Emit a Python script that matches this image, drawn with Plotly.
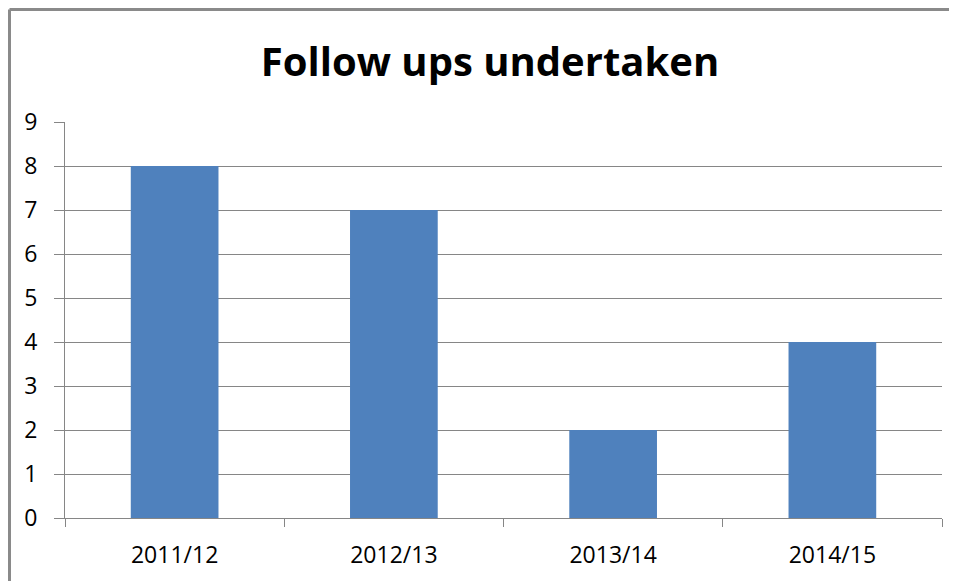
import plotly.graph_objects as go

categories = ["2011/12", "2012/13", "2013/14", "2014/15"]
values = [8, 7, 2, 4]
y_ticks = list(range(0, 10))

# page has an 8px body margin, so figure coordinates are offset by 8px
OFF = 8
W, H = 957 - OFF, 581 - OFF
L = 65 - OFF
T = 122 - OFF
R = W - (942 - OFF)
B = H - (518 - OFF)
pw, ph = W - L - R, H - T - B

fig = go.Figure(go.Bar(x=categories, y=values, marker_color="#4F81BD", marker_line_width=0))

grid = "#868686"
fig.update_layout(
    width=W, height=H,
    margin=dict(l=L, r=R, t=T, b=B, autoexpand=False),
    paper_bgcolor="white", plot_bgcolor="white",
    bargap=0.6,
    showlegend=False,
    title=dict(text="<b>Follow ups undertaken</b>", x=(490 - OFF - L) / pw, xref="paper", xanchor="center",
               y=1 - (62 - OFF) / H, yanchor="middle",
               font=dict(family="Open Sans", size=40, color="black")),
    font=dict(family="Open Sans", color="black"),
)
fig.update_yaxes(range=[0, 9], tickvals=y_ticks, showgrid=True, gridcolor=grid, gridwidth=1,
                 showline=True, linecolor=grid, linewidth=1, ticks="outside", ticklen=10,
                 tickcolor=grid, tickfont=dict(size=23, family="Open Sans"), zeroline=False,
                 ticklabelstandoff=12)
fig.update_xaxes(showline=True, linecolor=grid, linewidth=1, ticks="outside", ticklen=8,
                 tickcolor=grid, tickson="boundaries", tickfont=dict(size=23, family="Open Sans"),
                 ticklabelstandoff=16)

# outer chart border (left and top edges only; others fall outside the view)
x0 = (9.5 - OFF - L) / pw
y1 = 1 + (T - (9.5 - OFF)) / ph
border = dict(color="#8a8a8a", width=3)
fig.add_shape(type="line", xref="paper", yref="paper", x0=x0, x1=x0, y0=-0.5, y1=y1, line=border)
fig.add_shape(type="line", xref="paper", yref="paper", x0=x0, x1=1.5, y0=y1, y1=y1, line=border)

fig.write_html("out.html")
